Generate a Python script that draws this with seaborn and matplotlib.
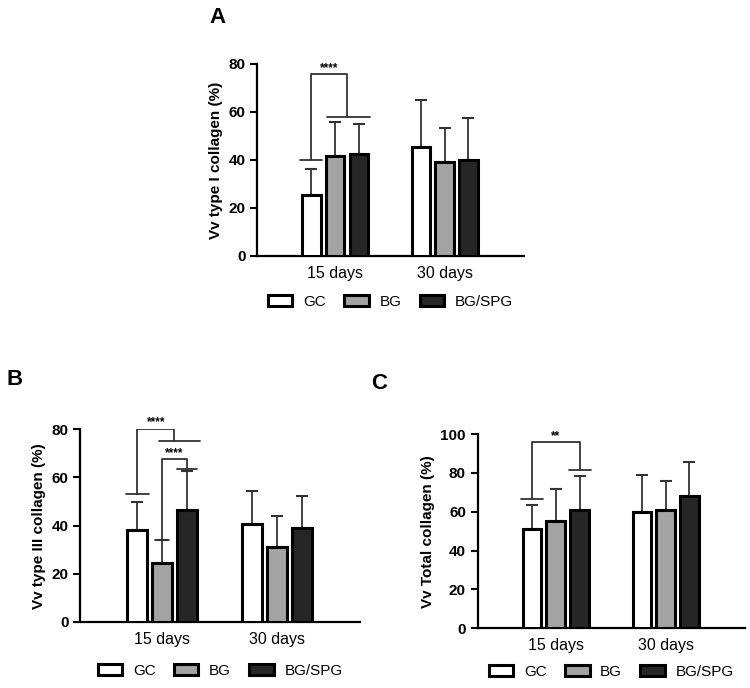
import numpy as np
import pandas as pd
import matplotlib
matplotlib.use('Agg')
import matplotlib.pyplot as plt
import seaborn as sns

# groups and time points
groups = ['GC', 'BG', 'BG/SPG']
days = ['15 days', '30 days']
colors = ['white', '#a3a3a3', '#262626']

# mean and SD, order: 15 days (GC, BG, BG/SPG), then 30 days (GC, BG, BG/SPG)
type1_mean = [25.6, 41.6, 42.3, 45.5, 39.0, 39.8]
type1_sd = [10.8, 14.3, 12.6, 19.3, 14.4, 17.8]
type3_mean = [38.0, 24.3, 46.3, 40.5, 31.0, 39.0]
type3_sd = [12.0, 9.7, 16.5, 14.0, 12.8, 13.5]
total_mean = [51.0, 55.4, 61.0, 59.9, 60.9, 68.2]
total_sd = [12.7, 16.1, 17.2, 18.8, 14.9, 17.3]

sns.set_style('ticks')
plt.rcParams['font.family'] = ['Liberation Sans', 'DejaVu Sans']
for k in ['text.color', 'axes.labelcolor', 'xtick.color', 'ytick.color', 'axes.edgecolor']:
    plt.rcParams[k] = 'black'


def make_df(mean, sd):
    return pd.DataFrame({
        'day': np.repeat(days, 3),
        'group': groups * 2,
        'mean': mean,
        'sd': sd,
    })


def bar_x(ax, df):
    # x centre of each bar, keyed by (day, group)
    pos = {}
    for g, cont in zip(groups, ax.containers):
        for d, patch in zip(days, cont.patches):
            pos[(d, g)] = patch.get_x() + patch.get_width() / 2
    return pos


def short_line(ax, xc, y, half=0.1):
    ax.plot([xc - half, xc + half], [y, y], color='#333333', lw=1.3)


def panel(ax, mean, sd, ylabel, ymax, letter, letter_xy, leg_y):
    df = make_df(mean, sd)
    sns.barplot(data=df, x='day', y='mean', hue='group', hue_order=groups,
                palette=colors, edgecolor='black', linewidth=2.2,
                width=0.65, gap=0.22, errorbar=None, ax=ax, zorder=3)
    pos = bar_x(ax, df)
    for _, r in df.iterrows():
        ax.errorbar(pos[(r['day'], r['group'])], r['mean'],
                    yerr=[[0], [r['sd']]], color='#333333', lw=1.3,
                    capsize=4.6, capthick=1.5, zorder=2)
    ax.set_xlim(-0.71, 1.72)
    ax.set_ylim(0, ymax)
    ax.set_yticks(np.arange(0, ymax + 1, 20))
    ax.set_xlabel('')
    ax.set_ylabel(ylabel, fontsize=11, fontweight='bold')
    ax.tick_params(axis='y', width=1.5, length=5, labelsize=11)
    ax.tick_params(axis='x', length=0, labelsize=11.5, pad=7)
    for lab in ax.get_yticklabels():
        lab.set_fontweight('bold')
    for s in ['left', 'bottom']:
        ax.spines[s].set_linewidth(1.6)
    sns.despine(ax=ax)
    ax.legend(loc='upper center', bbox_to_anchor=(0.5, leg_y), ncol=3,
              frameon=False, fontsize=11, handlelength=1.6,
              handleheight=0.7, handletextpad=0.7, columnspacing=1.2)
    for h in ax.get_legend().get_patches():
        h.set_linewidth(2.2)
    ax.figure.text(letter_xy[0], letter_xy[1], letter, fontsize=16,
                   fontweight='bold', ha='center', va='center')
    return pos


fig = plt.figure(figsize=(7.5, 6.88), dpi=100)
axA = fig.add_axes([0.343, 0.628, 0.355, 0.279])
axB = fig.add_axes([0.107, 0.096, 0.373, 0.280])
axC = fig.add_axes([0.637, 0.087, 0.356, 0.282])

star_kw = dict(ha='center', va='bottom', fontsize=8.5, fontweight='bold')
line_kw = dict(color='#333333', lw=1.3)

# A
p = panel(axA, type1_mean, type1_sd, 'Vv type I collagen (%)', 80, 'A', (0.29, 0.975), -0.13)
x_gc = p[('15 days', 'GC')]
x_mid = (p[('15 days', 'BG')] + p[('15 days', 'BG/SPG')]) / 2
short_line(axA, x_gc, 39.9)
axA.plot([p[('15 days', 'BG')] - 0.07, p[('15 days', 'BG/SPG')] + 0.1], [58, 58], **line_kw)
axA.plot([x_gc, x_gc, x_mid, x_mid], [39.9, 75.8, 75.8, 58], **line_kw)
axA.text((x_gc + x_mid) / 2, 75.8, '****', **star_kw)

# B
p = panel(axB, type3_mean, type3_sd, 'Vv type III collagen (%)', 80, 'B', (0.019, 0.448), -0.145)
x_gc = p[('15 days', 'GC')]
x_bg = p[('15 days', 'BG')]
x_spg = p[('15 days', 'BG/SPG')]
x_mid = (x_bg + x_spg) / 2
short_line(axB, x_gc, 53)
axB.plot([x_bg - 0.03, x_spg + 0.11], [75.3, 75.3], **line_kw)
axB.plot([x_gc, x_gc, x_mid, x_mid], [53, 80.3, 80.3, 75.3], **line_kw)
axB.text((x_gc + x_mid) / 2, 80.3, '****', **star_kw)
short_line(axB, x_bg, 34, half=0.06)
axB.plot([x_spg - 0.09, x_spg + 0.09], [63.5, 63.5], **line_kw)
axB.plot([x_bg, x_bg, x_spg, x_spg], [34, 67.5, 67.5, 63.5], **line_kw)
axB.text((x_bg + x_spg) / 2, 67.5, '****', **star_kw)

# C
p = panel(axC, total_mean, total_sd, 'Vv Total collagen (%)', 100, 'C', (0.505, 0.443), -0.12)
x_gc = p[('15 days', 'GC')]
x_spg = p[('15 days', 'BG/SPG')]
short_line(axC, x_gc, 66.4)
short_line(axC, x_spg, 81.3)
axC.plot([x_gc, x_gc, x_spg, x_spg], [66.4, 95.7, 95.7, 81.3], **line_kw)
axC.text((x_gc + x_spg) / 2, 95.7, '**', **star_kw)

fig.savefig('out.png', dpi=100)
